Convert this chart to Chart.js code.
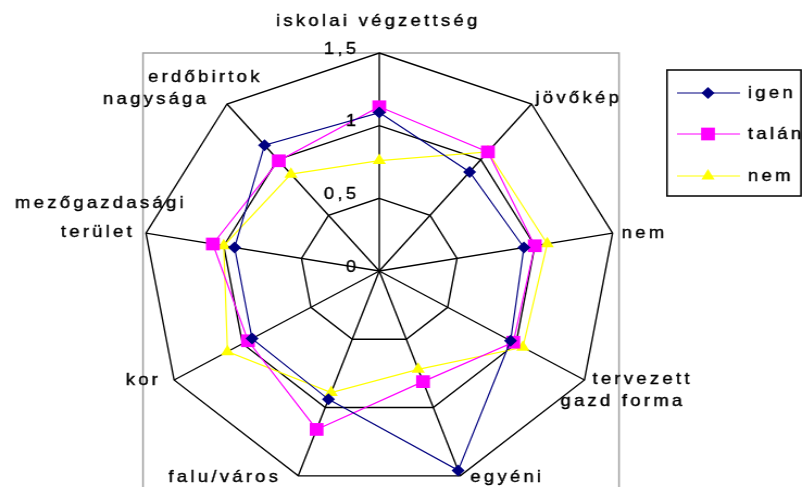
<!DOCTYPE html>
<html>
<head>
<meta charset="utf-8">
<script src="https://cdn.jsdelivr.net/npm/chart.js@4.4.0/dist/chart.umd.min.js"></script>
<style>
  body { margin: 0; overflow: hidden; background: #fff; }
  #wrap { width: 738px; height: 500px; transform: scaleX(1.0867); transform-origin: 0 0; }
</style>
</head>
<body>
<div id="wrap"><canvas id="radar"></canvas></div>
<script>
// categories (one entry per axis, lines as drawn)
let categories = [
    ['iskolai végzettség'],
    ['jövőkép'],
    ['nem'],
    ['tervezett', 'gazd forma'],
    ['egyéni'],
    ['falu/város'],
    ['kor'],
    ['mezőgazdasági', 'terület'],
    ['erdőbirtok', 'nagysága']
];
let seriesNames = ['igen', 'talán', 'nem'];
let igen  = [1.09, 0.89, 0.93, 0.96, 1.46, 0.94, 0.93, 0.93, 1.13];
let talan = [1.13, 1.07, 1.00, 0.98, 0.81, 1.16, 0.96, 1.07, 0.99];
let nem   = [0.76, 1.07, 1.08, 1.05, 0.72, 0.89, 1.11, 1.00, 0.87];
let tickValues = [0, 0.5, 1, 1.5];
let tickLabels = ['0', '0,5', '1', '1,5'];

// the picture is stretched sideways, so the canvas is too
const K = 802 / 738;
const font = '17px "Liberation Sans", Arial, sans-serif';
const spacing = '3px';

// label offsets from each outer vertex (screen px)
let labelPos = [
    [{dx: -1, dy: -32, align: 'center'}],
    [{dx: 4, dy: -6, align: 'left'}],
    [{dx: 9, dy: 0, align: 'left'}],
    [{dx: 8, dy: -1, align: 'left'}, {dx: -24, dy: 21, align: 'left'}],
    [{dx: 10, dy: 1, align: 'left'}],
    [{dx: -17, dy: 1, align: 'right'}],
    [{dx: -13, dy: 0, align: 'right'}],
    [{dx: -45, dy: -30, align: 'center'}, {dx: -48, dy: -1, align: 'center'}],
    [{dx: -79, dy: -27, align: 'left'}, {dx: -124, dy: -5, align: 'left'}]
];

let colours = ['#000080', '#FF00FF', '#FFFF00'];
let markers = ['rectRot', 'rect', 'triangle'];
let sizes = [6, 9, 7];

function setText(ctx, align) {
    ctx.font = font;
    ctx.fillStyle = '#000';
    ctx.strokeStyle = '#000';
    ctx.lineWidth = 0.4;
    ctx.textAlign = align;
    ctx.textBaseline = 'middle';
    if ('letterSpacing' in ctx) ctx.letterSpacing = spacing;
}

function text(ctx, s, x, y) {
    ctx.fillText(s, x, y);
    ctx.strokeText(s, x, y);
}

function marker(ctx, kind, x, y, r, colour) {
    ctx.fillStyle = colour;
    ctx.beginPath();
    if (kind == 'rectRot') {
        ctx.moveTo(x, y - r); ctx.lineTo(x + r, y); ctx.lineTo(x, y + r); ctx.lineTo(x - r, y);
    } else if (kind == 'rect') {
        let s = Math.SQRT1_2 * r;
        ctx.rect(x - s, y - s, 2 * s, 2 * s);
    } else {
        ctx.moveTo(x, y - r);
        ctx.lineTo(x + Math.sin(2 * Math.PI / 3) * r, y - Math.cos(2 * Math.PI / 3) * r);
        ctx.lineTo(x + Math.sin(4 * Math.PI / 3) * r, y - Math.cos(4 * Math.PI / 3) * r);
    }
    ctx.closePath();
    ctx.fill();
}

const excelLook = {
    id: 'excelLook',
    beforeDraw(chart) {
        let ctx = chart.ctx;
        ctx.save();
        ctx.strokeStyle = '#a0a0a0';
        ctx.lineWidth = 1.5;
        ctx.strokeRect(143 / K, 53, (619 - 143) / K, 480);
        ctx.restore();
    },
    afterDraw(chart) {
        let ctx = chart.ctx;
        let scale = chart.scales.r;
        ctx.save();
        // axis labels
        categories.forEach((lines, i) => {
            let p = scale.getPointPosition(i, scale.drawingArea);
            lines.forEach((line, j) => {
                let lp = labelPos[i][j];
                setText(ctx, lp.align);
                text(ctx, line, p.x + lp.dx / K, p.y + lp.dy);
            });
        });
        // tick labels
        setText(ctx, 'right');
        tickValues.forEach((v, i) => {
            let d = scale.getDistanceFromCenterForValue(v);
            text(ctx, tickLabels[i], scale.xCenter - 20 / K, scale.yCenter - d - 4);
        });
        // legend
        ctx.strokeStyle = '#000';
        ctx.lineWidth = 1.5;
        ctx.strokeRect(667 / K, 70, (801 - 667) / K, 126);
        [93, 134, 176].forEach((y, i) => {
            ctx.strokeStyle = colours[i];
            ctx.lineWidth = 1.2;
            ctx.beginPath();
            ctx.moveTo(677 / K, y);
            ctx.lineTo(740 / K, y);
            ctx.stroke();
            marker(ctx, markers[i], 708 / K, y, sizes[i], colours[i]);
            setText(ctx, 'left');
            text(ctx, seriesNames[i], 748 / K, y);
        });
        ctx.restore();
    }
};

let values = [igen, talan, nem];
let radar = new Chart(document.getElementById('radar'), {
    type: 'radar',
    data: {
        labels: categories,
        datasets: values.map((v, i) => ({
            label: seriesNames[i],
            data: v,
            borderColor: colours[i],
            backgroundColor: colours[i],
            borderWidth: 1.2,
            fill: false,
            tension: 0,
            pointStyle: markers[i],
            pointRadius: sizes[i],
            pointBackgroundColor: colours[i],
            pointBorderColor: colours[i],
            pointBorderWidth: 0
        }))
    },
    options: {
        responsive: true,
        maintainAspectRatio: false,
        animation: false,
        layout: { padding: { left: 131, top: 53, right: 171, bottom: 11 } },
        plugins: { legend: { display: false }, tooltip: { enabled: false } },
        scales: {
            r: {
                min: 0,
                max: 1.5,
                ticks: { stepSize: 0.5, display: false },
                grid: { color: '#000', lineWidth: 1.4 },
                angleLines: { color: '#000', lineWidth: 1.4 },
                pointLabels: { display: false }
            }
        }
    },
    plugins: [excelLook]
});
</script>
</body>
</html>
